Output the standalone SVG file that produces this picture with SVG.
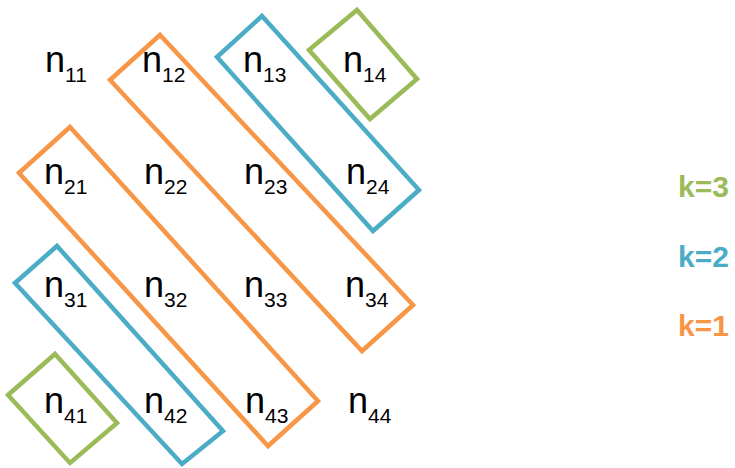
<svg xmlns="http://www.w3.org/2000/svg" width="735" height="468" viewBox="0 0 735 468">
<style>
.box{fill:none;stroke-width:4.5;stroke-linejoin:miter}
.o{stroke:#F79646}.b{stroke:#4BACC6}.g{stroke:#9BBB59}
.n{font-family:"Liberation Sans",Arial,sans-serif;font-size:36px;fill:#000}
.sub{font-size:21px}
.k{font-family:"Liberation Sans",Arial,sans-serif;font-size:30px;font-weight:bold}
</style>
<rect width="735" height="468" fill="#fff"/>
<g id="groups">
<polygon id="g14" class="box g" points="357,10 417,79 370,119 309,50"/>
<polygon id="b13" class="box b" points="262,16 419,190 373,231 217,57"/>
<polygon id="o12" class="box o" points="160,35 413,305 362,351 110,80"/>
<polygon id="o21" class="box o" points="70,127 318,401 268,446 19,173"/>
<polygon id="b31" class="box b" points="57,246 223,431 182,464 15,283"/>
<polygon id="g41" class="box g" points="55,354 117,423 70,463 8,395"/>
</g>
<g id="nodes">
<g id="n11"><text class="n" x="45" y="72">n<tspan class="sub" dy="10">11</tspan></text></g>
<g id="n12"><text class="n" x="142" y="72">n<tspan class="sub" dy="10">12</tspan></text></g>
<g id="n13"><text class="n" x="243" y="72">n<tspan class="sub" dy="10">13</tspan></text></g>
<g id="n14"><text class="n" x="343" y="72">n<tspan class="sub" dy="10">14</tspan></text></g>
<g id="n21"><text class="n" x="44" y="184">n<tspan class="sub" dy="10">21</tspan></text></g>
<g id="n22"><text class="n" x="144" y="184">n<tspan class="sub" dy="10">22</tspan></text></g>
<g id="n23"><text class="n" x="244" y="184">n<tspan class="sub" dy="10">23</tspan></text></g>
<g id="n24"><text class="n" x="346" y="184">n<tspan class="sub" dy="10">24</tspan></text></g>
<g id="n31"><text class="n" x="44" y="297">n<tspan class="sub" dy="10">31</tspan></text></g>
<g id="n32"><text class="n" x="144" y="297">n<tspan class="sub" dy="10">32</tspan></text></g>
<g id="n33"><text class="n" x="244" y="297">n<tspan class="sub" dy="10">33</tspan></text></g>
<g id="n34"><text class="n" x="345" y="297">n<tspan class="sub" dy="10">34</tspan></text></g>
<g id="n41"><text class="n" x="44" y="413">n<tspan class="sub" dy="10">41</tspan></text></g>
<g id="n42"><text class="n" x="144" y="413">n<tspan class="sub" dy="10">42</tspan></text></g>
<g id="n43"><text class="n" x="245" y="413">n<tspan class="sub" dy="10">43</tspan></text></g>
<g id="n44"><text class="n" x="348" y="413">n<tspan class="sub" dy="10">44</tspan></text></g>
</g>
<g id="legend">
<text class="k" x="678" y="197" fill="#9BBB59">k=3</text>
<text class="k" x="678" y="267" fill="#4BACC6">k=2</text>
<text class="k" x="678" y="336" fill="#F79646">k=1</text>
</g>
</svg>
